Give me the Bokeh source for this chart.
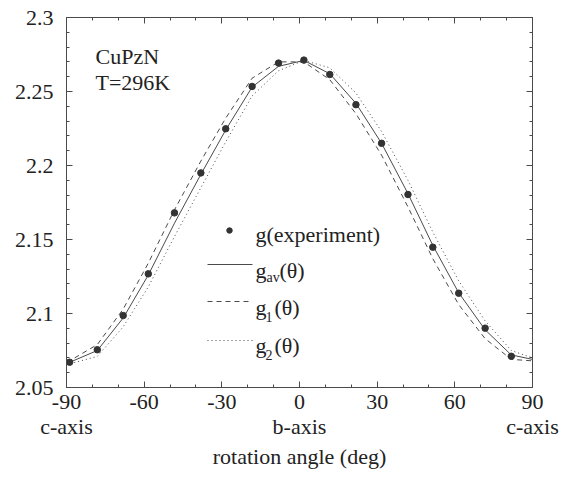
from bokeh.plotting import figure
from bokeh.models import Label, LinearAxis, FixedTicker, PrintfTickFormatter, Range1d
from bokeh.embed import file_html
from bokeh.resources import INLINE

# ---------------- data ----------------
theta_exp = [-88.8, -78.1, -68.1, -58.4, -48.3, -38.1, -28.5, -18.3, -8.1,
             1.7, 11.7, 21.8, 31.7, 41.9, 51.5, 61.5, 71.7, 81.8]
g_exp = [2.0671, 2.0755, 2.0986, 2.1268, 2.1680, 2.1950, 2.2248, 2.2534, 2.2692,
         2.2712, 2.2615, 2.2411, 2.2150, 2.1804, 2.1448, 2.1137, 2.0901, 2.0711]

theta_calc = [-90, -88.8, -78.1, -68.1, -58.4, -48.3, -38.1, -28.5, -18.3, -8.1,
              1.7, 11.7, 21.8, 31.7, 41.9, 51.5, 61.5, 71.7, 81.8, 90]
g_av = [2.0665, 2.0670, 2.0750, 2.0970, 2.1260, 2.1610, 2.1940, 2.2240, 2.2530, 2.2670,
        2.2710, 2.2620, 2.2420, 2.2150, 2.1810, 2.1460, 2.1140, 2.0890, 2.0720, 2.0690]
g_1 = [2.0675, 2.0680, 2.0790, 2.1030, 2.1340, 2.1700, 2.2030, 2.2320, 2.2590, 2.2700,
       2.2700, 2.2580, 2.2350, 2.2070, 2.1720, 2.1370, 2.1060, 2.0830, 2.0690, 2.0680]
g_2 = [2.0655, 2.0660, 2.0710, 2.0910, 2.1180, 2.1520, 2.1850, 2.2160, 2.2470, 2.2640,
       2.2710, 2.2660, 2.2490, 2.2230, 2.1900, 2.1550, 2.1220, 2.0950, 2.0750, 2.0700]

x_ticks = [-90, -60, -30, 0, 30, 60, 90]
x_tick_labels = ["-90\nc-axis", "-60", "-30", "0\nb-axis", "30", "60", "90\nc-axis"]
x_minor = [-80, -70, -50, -40, -20, -10, 10, 20, 40, 50, 70, 80]
y_ticks = [2.05, 2.1, 2.15, 2.2, 2.25, 2.3]
y_minor = [2.06, 2.07, 2.08, 2.09, 2.11, 2.12, 2.13, 2.14, 2.16, 2.17, 2.18, 2.19,
           2.21, 2.22, 2.23, 2.24, 2.26, 2.27, 2.28, 2.29]

sample_name = "CuPzN"
temperature = "T=296K"
x_title = "rotation angle (deg)"

# ---------------- layout constants (pixels) ----------------
W, H = 581, 479
FL, FR, FT, FB = 66, 532, 17, 387
XMIN, XMAX, YMIN, YMAX = -90.0, 90.0, 2.05, 2.3
FONT = "Liberation Serif"
INK = "#222222"
LINE = "#4a4a4a"
TXT_SHIFT = -6


def dx(px):
    return XMIN + (px - FL) * (XMAX - XMIN) / (FR - FL)


def dy(py):
    return YMAX - (py - FT) * (YMAX - YMIN) / (FB - FT)


p = figure(width=W, height=H, x_range=Range1d(XMIN, XMAX), y_range=Range1d(YMIN, YMAX),
           output_backend="svg", toolbar_location=None, tools="",
           min_border_left=FL, min_border_right=W - FR, min_border_top=FT,
           min_border_bottom=H - FB)
p.background_fill_color = "white"
p.border_fill_color = "white"
p.outline_line_color = LINE
p.xgrid.visible = False
p.ygrid.visible = False


def style_axis(ax, show_labels, ticks, minor):
    ax.ticker = FixedTicker(ticks=ticks, minor_ticks=minor)
    ax.axis_line_color = LINE
    ax.major_tick_line_color = LINE
    ax.minor_tick_line_color = LINE
    ax.major_tick_in = 6
    ax.major_tick_out = 0
    ax.minor_tick_in = 3
    ax.minor_tick_out = 0
    ax.major_label_text_font = FONT
    if show_labels:
        ax.major_label_text_color = INK
        ax.major_label_text_font_size = "22px"
    else:
        ax.major_label_text_color = None
        ax.major_label_text_font_size = "1px"
        ax.major_label_standoff = 0


xa = p.xaxis[0]
style_axis(xa, True, x_ticks, x_minor)
xa.major_label_overrides = {t: s for t, s in zip(x_ticks, x_tick_labels)}
xa.major_label_text_line_height = 1.0
xa.major_label_standoff = 1
xa.axis_label = x_title
xa.axis_label_text_font = FONT
xa.axis_label_text_font_style = "normal"
xa.axis_label_text_font_size = "22px"
xa.axis_label_text_color = INK
xa.axis_label_standoff = 2

ya = p.yaxis[0]
style_axis(ya, True, y_ticks, y_minor)
ya.formatter = PrintfTickFormatter(format="%g")
ya.major_label_standoff = 13

top = LinearAxis()
style_axis(top, False, x_ticks, x_minor)
p.add_layout(top, "above")
right = LinearAxis()
style_axis(right, False, y_ticks, y_minor)
p.add_layout(right, "right")

# ---------------- data marks ----------------
p.line(theta_calc, g_1, line_color=LINE, line_width=1, line_dash="5 4")
p.line(theta_calc, g_2, line_color=LINE, line_width=1, line_dash="1 3")
p.line(theta_calc, g_av, line_color=LINE, line_width=1)
p.scatter(theta_exp, g_exp, size=6.5, fill_color="#333333", line_color="#333333")


def label(text, px, py, size="22px", font=FONT, baseline="alphabetic", align="left"):
    p.add_layout(Label(x=dx(px), y=dy(py + TXT_SHIFT), text=text, text_font=font,
                       text_font_size=size, text_color=INK, text_baseline=baseline,
                       text_align=align))


# sample annotation
label(sample_name, 95, 62)
label(temperature, 95, 88)

# ---------------- legend (manual, to allow subscripts) ----------------
LX0, LX1, LT = 207, 252, 255
p.scatter([dx(229)], [dy(230)], size=5.5, fill_color="#333333", line_color="#333333")
label("g(experiment)", LT, 240)

p.line([dx(LX0), dx(LX1)], [dy(264), dy(264)], line_color=LINE, line_width=1)
label("g", LT, 276)
label("av", 266, 283, size="14px")
label("(θ)", 279, 276)

p.line([dx(LX0), dx(LX1)], [dy(301), dy(301)], line_color=LINE, line_width=1, line_dash="5 4")
label("g", LT, 313)
label("1", 265, 322, size="14px")
label("(θ)", 274, 313)

p.line([dx(LX0), dx(LX1)], [dy(340), dy(340)], line_color=LINE, line_width=1, line_dash="1 3")
label("g", LT, 351)
label("2", 265, 360, size="14px")
label("(θ)", 274, 351)

open("out.html", "w").write(file_html(p, INLINE))
